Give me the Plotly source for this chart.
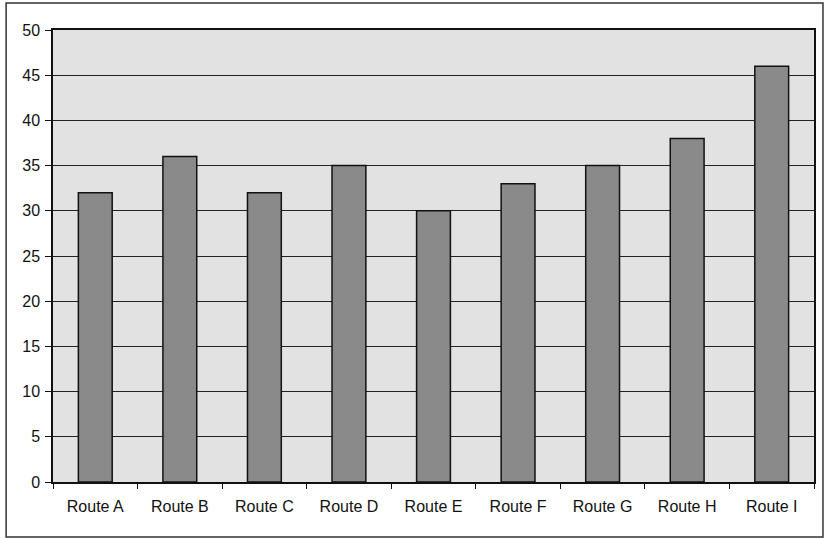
import plotly.graph_objects as go

routes = ["Route A", "Route B", "Route C", "Route D", "Route E",
          "Route F", "Route G", "Route H", "Route I"]
values = [32, 36, 32, 35, 30, 33, 35, 38, 46]
y_ticks = [0, 5, 10, 15, 20, 25, 30, 35, 40, 45, 50]

fig = go.Figure(
    go.Bar(
        x=routes,
        y=values,
        marker=dict(
            color="#8a8a8a",
            line=dict(color="#111111", width=1.5),
        ),
        width=0.4,
    )
)

fig.update_layout(
    width=827,
    height=539,
    margin=dict(l=53, r=11, t=30, b=57),
    paper_bgcolor="white",
    plot_bgcolor="#e2e2e2",
    font=dict(family="Liberation Sans, Arial, sans-serif", size=16, color="#111111"),
    showlegend=False,
    bargap=0.6,
)

fig.update_xaxes(
    showgrid=False,
    showline=True,
    linecolor="#111111",
    linewidth=1.5,
    mirror=True,
    ticks="outside",
    tickson="boundaries",
    ticklen=5,
    tickcolor="#111111",
    tickfont=dict(size=16),
    ticklabelstandoff=9,
)

fig.update_yaxes(
    range=[0, 50],
    tickvals=y_ticks,
    showgrid=True,
    gridcolor="#222222",
    gridwidth=1,
    showline=True,
    linecolor="#111111",
    linewidth=1.5,
    mirror=True,
    ticks="outside",
    ticklen=6,
    tickcolor="#111111",
    tickfont=dict(size=16),
    ticklabelstandoff=2,
    zeroline=False,
)

# Frame around the whole chart
fig.add_shape(
    type="rect",
    xref="paper", yref="paper",
    x0=-0.0616, x1=1.0118, y0=-0.1217, y1=1.0597,
    line=dict(color="#333333", width=1.5),
    fillcolor="rgba(0,0,0,0)",
    layer="below",
)

fig.write_html("out.html")
